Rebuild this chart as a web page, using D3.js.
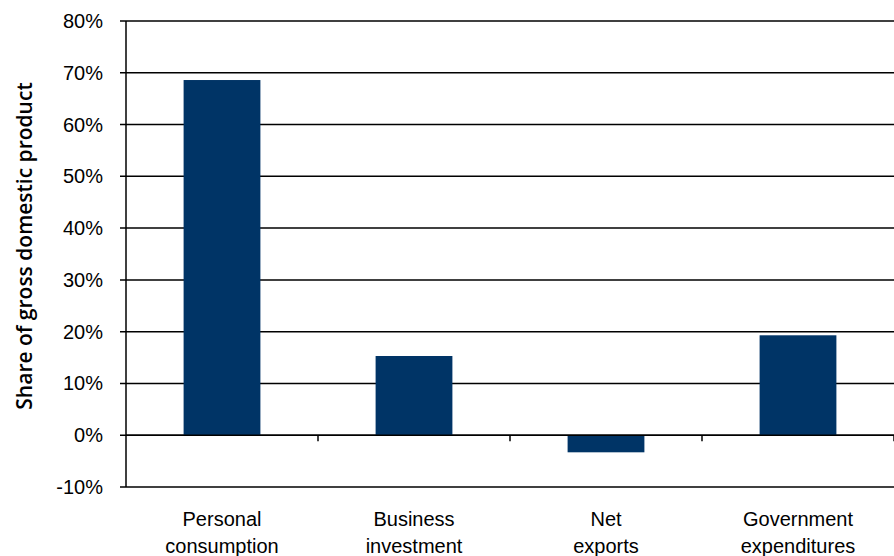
<!DOCTYPE html>
<html>
<head>
<meta charset="utf-8">
<script src="https://cdn.jsdelivr.net/npm/d3@7"></script>
<style>
  body { margin: 0; background: #fff; }
  svg text { font-family: "Liberation Sans", Arial, sans-serif; fill: #000; }
</style>
</head>
<body>
<div id="main"></div>
<script>
const categories = [["Personal", "consumption"], ["Business", "investment"], ["Net", "exports"], ["Government", "expenditures"]];
const shares = [68.6, 15.3, -3.3, 19.3];
const yTicks = [-10, 0, 10, 20, 30, 40, 50, 60, 70, 80];

const ctx = {
    SVG_W: 894,
    SVG_H: 556,
    left: 126,
    right: 894,
    top: 21,
    bottom: 487,
};

function createViz() {
    let svgEl = d3.select("#main").append("svg")
        .attr("width", ctx.SVG_W)
        .attr("height", ctx.SVG_H);

    let keys = categories.map(c => c.join(" "));
    let x = d3.scaleBand()
        .domain(keys)
        .range([ctx.left, ctx.right])
        .paddingInner(0.6)
        .paddingOuter(0.3);
    let y = d3.scaleLinear()
        .domain([-10, 80])
        .range([ctx.bottom, ctx.top]);

    // gridlines + y tick labels
    let grid = svgEl.append("g");
    grid.selectAll("line")
        .data(yTicks)
        .enter()
        .append("line")
        .attr("x1", ctx.left - 6)
        .attr("x2", ctx.right)
        .attr("y1", d => y(d))
        .attr("y2", d => y(d))
        .attr("stroke", "#000")
        .attr("stroke-width", 1.5);
    grid.selectAll("text")
        .data(yTicks)
        .enter()
        .append("text")
        .attr("x", 103)
        .attr("y", d => y(d))
        .attr("dy", "0.35em")
        .attr("text-anchor", "end")
        .style("font-size", "20px")
        .text(d => d + "%");

    // bars
    svgEl.append("g").selectAll("rect")
        .data(shares)
        .enter()
        .append("rect")
        .attr("x", (d, i) => x(keys[i]))
        .attr("width", x.bandwidth())
        .attr("y", d => y(Math.max(0, d)))
        .attr("height", d => Math.abs(y(d) - y(0)))
        .attr("fill", "#003466");

    // zero line drawn over bars, with category separator ticks
    svgEl.append("line")
        .attr("x1", ctx.left).attr("x2", ctx.right)
        .attr("y1", y(0)).attr("y2", y(0))
        .attr("stroke", "#000").attr("stroke-width", 1.5);
    svgEl.append("g").selectAll("line")
        .data(keys)
        .enter()
        .append("line")
        .attr("x1", d => x(d) + x.bandwidth() / 2 + x.step() / 2)
        .attr("x2", d => x(d) + x.bandwidth() / 2 + x.step() / 2)
        .attr("y1", y(0))
        .attr("y2", y(0) + 6)
        .attr("stroke", "#000")
        .attr("stroke-width", 1.5);

    // y axis line
    svgEl.append("line")
        .attr("x1", ctx.left).attr("x2", ctx.left)
        .attr("y1", ctx.top).attr("y2", ctx.bottom)
        .attr("stroke", "#000").attr("stroke-width", 1.5);

    // category labels
    let labels = svgEl.append("g").selectAll("text")
        .data(categories)
        .enter()
        .append("text")
        .attr("text-anchor", "middle")
        .style("font-size", "20px");
    labels.each(function (d, i) {
        let cx = x(keys[i]) + x.bandwidth() / 2;
        d3.select(this).selectAll("tspan")
            .data(d)
            .enter()
            .append("tspan")
            .attr("x", cx)
            .attr("y", (t, j) => 526 + j * 27)
            .text(t => t);
    });

    // y axis title
    svgEl.append("text")
        .attr("transform", "translate(32," + 246 + ") rotate(-90)")
        .attr("text-anchor", "middle")
        .style("font-family", "'Open Sans', sans-serif")
        .style("font-size", "21px")
        .style("font-weight", "600")
        .text("Share of gross domestic product");
}

createViz();
</script>
</body>
</html>
